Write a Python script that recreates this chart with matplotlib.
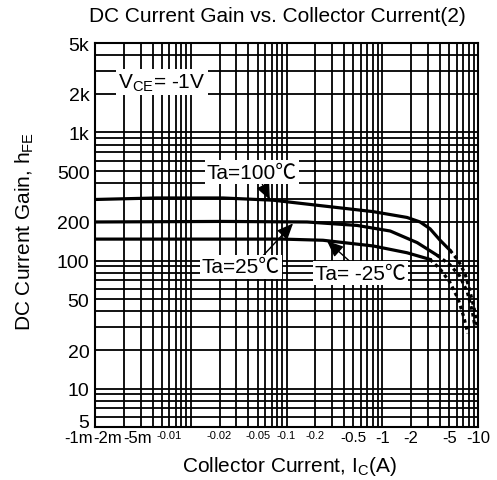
import numpy as np
import matplotlib.pyplot as plt
from matplotlib.ticker import FixedLocator, LogLocator, NullFormatter
from matplotlib.transforms import ScaledTranslation

plt.rcParams['font.family'] = ['Liberation Sans', 'Noto Sans CJK SC', 'DejaVu Sans']
plt.rcParams['mathtext.fontset'] = 'custom'
plt.rcParams['mathtext.rm'] = 'Liberation Sans'

# |Ic| in A, hFE (solid part, then dotted tail)
ic_100 = [0.00104, 0.0044, 0.0217, 0.0723, 0.24, 0.8, 1.81, 2.48, 3.15, 4.01, 5.1]
hfe_100 = [300, 308, 308, 296, 267, 241, 217, 200, 177, 144, 120]
ic_100_tail = [5.1, 6.2, 7.3, 8.2, 9.1, 9.8]
hfe_100_tail = [120, 100, 79, 58, 42, 30]

ic_25 = [0.001, 0.0217, 0.164, 0.545, 1.21, 2.31, 3.73]
hfe_25 = [200, 202, 200, 188, 170, 138, 110]
ic_25_tail = [3.73, 5.05, 6.4, 7.7, 8.7, 9.3]
hfe_25_tail = [110, 93, 76, 57, 40, 30]

ic_m25 = [0.001, 0.0098, 0.092, 0.24, 0.8, 1.81, 3.15]
hfe_m25 = [147, 147, 147, 144, 130, 115, 102]
ic_m25_tail = [3.15, 4.0, 5.05, 6.2, 7.1, 7.8]
hfe_m25_tail = [102, 86, 68, 50, 36, 27]

x_ticks = [0.001, 0.002, 0.005, 0.01, 0.02, 0.05, 0.1, 0.2, 0.5, 1, 2, 5, 10]
x_ticklabels = ['-1m', '-2m', '-5m', '-0.01', '-0.02', '-0.05', '-0.1', '-0.2',
                '-0.5', '-1', '-2', '-5', '-10']
y_ticks = [5, 10, 20, 50, 100, 200, 500, 1000, 2000, 5000]
y_ticklabels = ['5', '10', '20', '50', '100', '200', '500', '1k', '2k', '5k']


def nudge(lbl, dx, dy):
    lbl.set_transform(lbl.get_transform() +
                      ScaledTranslation(dx / 100, dy / 100, fig.dpi_scale_trans))


fig = plt.figure(figsize=(4.97, 4.81), dpi=100)
ax = fig.add_axes([0.191, 0.110, 0.771, 0.7985])
ax.set_xscale('log')
ax.set_yscale('log')
ax.set_xlim(0.001, 10)
ax.set_ylim(5, 5000)

ax.xaxis.set_major_locator(FixedLocator(x_ticks))
ax.set_xticklabels(x_ticklabels)
ax.yaxis.set_major_locator(FixedLocator(y_ticks))
ax.set_yticklabels(y_ticklabels)
for axis in (ax.xaxis, ax.yaxis):
    axis.set_minor_locator(LogLocator(base=10, subs=np.arange(2, 10), numticks=100))
    axis.set_minor_formatter(NullFormatter())
ax.tick_params(which='both', length=0)
ax.tick_params(axis='y', labelsize=14, pad=4)
ax.tick_params(axis='x', pad=2)

# the left-hand labels are packed towards the left in the original
shift = {'-1m': ('right', -2), '-2m': ('right', -2), '-5m': ('right', -10),
         '-0.01': ('center', -22)}
for lbl in ax.get_xticklabels():
    t = lbl.get_text()
    if t.startswith('-0.0') or t in ('-0.1', '-0.2'):
        lbl.set_fontsize(8)
    elif t == '-0.5':
        lbl.set_fontsize(11)
    else:
        lbl.set_fontsize(12)
    if t in shift:
        ha, dx = shift[t]
        lbl.set_ha(ha)
        nudge(lbl, dx, 0)
for lbl in ax.get_yticklabels():
    if lbl.get_text() == '5':
        nudge(lbl, 0, 7)

ax.set_axisbelow(True)
ax.grid(which='both', color='k', lw=1.3)
for s in ax.spines.values():
    s.set_linewidth(1.5)

lw = 2.3
ax.plot(ic_100, hfe_100, color='k', lw=lw, zorder=3)
ax.plot(ic_100_tail, hfe_100_tail, color='k', lw=lw, dashes=(1.1, 1.1), zorder=3)
ax.plot(ic_25, hfe_25, color='k', lw=lw, zorder=3)
ax.plot(ic_25_tail, hfe_25_tail, color='k', lw=lw, dashes=(1.1, 1.1), zorder=3)
ax.plot(ic_m25, hfe_m25, color='k', lw=lw, zorder=3)
ax.plot(ic_m25_tail, hfe_m25_tail, color='k', lw=lw, dashes=(1.1, 1.1), zorder=3)

box = dict(facecolor='white', edgecolor='none', pad=1.5)
ax.text(0.175, 0.898, r'V$_{\mathregular{CE}}$= -1V', transform=ax.transAxes,
        ha='center', va='center', fontsize=15, bbox=box, zorder=6)
ax.text(0.410, 0.664, 'Ta=100℃', transform=ax.transAxes,
        ha='center', va='center', fontsize=15, bbox=box, zorder=6)
ax.text(0.381, 0.417, 'Ta=25℃', transform=ax.transAxes,
        ha='center', va='center', fontsize=15, bbox=box, zorder=6)
ax.text(0.692, 0.401, 'Ta= -25℃', transform=ax.transAxes,
        ha='center', va='center', fontsize=15, bbox=box, zorder=6)

arrow = dict(arrowstyle='-|>,head_length=0.7,head_width=0.3', mutation_scale=14,
             color='k', lw=1, shrinkA=0, shrinkB=0)
ax.annotate('', xy=(0.067, 298), xytext=(0.0555, 400), arrowprops=arrow, zorder=4)
ax.annotate('', xy=(0.117, 195), xytext=(0.0492, 97), arrowprops=arrow, zorder=4)
ax.annotate('', xy=(0.265, 142), xytext=(0.483, 95), arrowprops=arrow, zorder=4)

fig.text(277 / 497, 1 - 17 / 481, 'DC Current Gain vs. Collector Current(2)',
         ha='center', va='center', fontsize=15)
fig.text(290 / 497, 1 - 467 / 481, r'Collector Current, I$_{\mathregular{C}}$(A)',
         ha='center', va='center', fontsize=15)
fig.text(25 / 497, 1 - 232 / 481, r'DC Current Gain, h$_{\mathregular{FE}}$',
         ha='center', va='center', fontsize=15, rotation=90)

fig.savefig('out.png', dpi=100)
